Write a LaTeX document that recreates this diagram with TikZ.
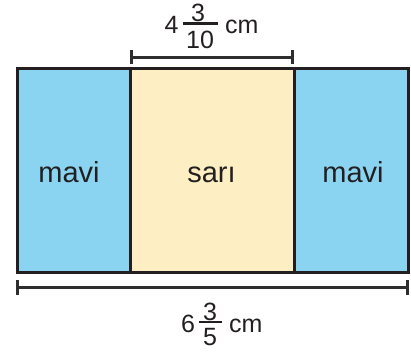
\documentclass[tikz,border=0pt]{standalone}
\usepackage{fontspec}
\setmainfont{Liberation Sans}
\definecolor{blueF}{HTML}{8AD4F2}
\definecolor{yellowF}{HTML}{FDEFC3}
\definecolor{edge}{HTML}{231F20}
\definecolor{dimc}{HTML}{2E2E2E}
\tikzset{
  part/.style={draw=edge, line width=3pt},
  lab/.style={font=\fontsize{29}{34}\selectfont, text=edge, inner sep=0pt, anchor=base},
  num/.style={font=\fontsize{25}{30}\selectfont, text=edge, inner sep=0pt, anchor=base},
  dimline/.style={draw=dimc, line width=3pt},
  fbar/.style={draw=edge, line width=2.4pt}
}
\begin{document}
\begin{tikzpicture}[x=1pt,y=-1pt]
\useasboundingbox (0,0) rectangle (411,351);
% parts
\path[fill=blueF] (17,68) rectangle (130,272);
\path[fill=yellowF] (130,68) rectangle (294,272);
\path[fill=blueF] (294,68) rectangle (408,272);
\draw[part] (17,68) rectangle (408,272);
\draw[part] (130,68) -- (130,272);
\draw[part] (294,68) -- (294,272);
\node[lab] (m1) at (69,182) {mavi};
\node[lab] (s) at (211.5,182) {sarı};
\node[lab] (m2) at (353,182) {mavi};
% top dimension
\coordinate (t1) at (131,57);
\coordinate (t2) at (292,57);
\draw[dimline] (t1) -- (t2);
\draw[dimline] ([yshift=-7pt]t1) -- ([yshift=7pt]t1);
\draw[dimline] ([yshift=-7pt]t2) -- ([yshift=7pt]t2);
\node[num] (w4) at (171.5,33) {4};
\node[num] (tn) at (198,21) {3};
\node[num] (td) at (200,48) {10};
\coordinate (tb1) at (183,23.5);
\coordinate (tb2) at (218,23.5);
\draw[fbar] (tb1) -- (tb2);
\node[num, anchor=base west] (tcm) at (225,33) {cm};
% bottom dimension
\coordinate (b1) at (17,287);
\coordinate (b2) at (407,287);
\draw[dimline] (b1) -- (b2);
\draw[dimline] ([yshift=-8pt]b1) -- ([yshift=7pt]b1);
\draw[dimline] ([yshift=-8pt]b2) -- ([yshift=7pt]b2);
\node[num] (w6) at (188,332) {6};
\node[num] (bn) at (210,320) {3};
\node[num] (bd) at (210,345) {5};
\coordinate (bb1) at (199,322);
\coordinate (bb2) at (222,322);
\draw[fbar] (bb1) -- (bb2);
\node[num, anchor=base west] (bcm) at (229,332) {cm};
\end{tikzpicture}
\end{document}
